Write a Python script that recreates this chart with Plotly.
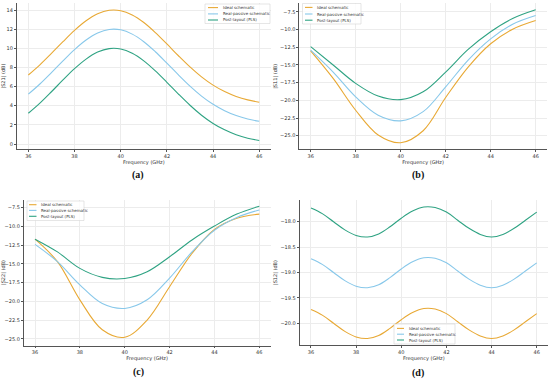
import plotly.graph_objects as go

# ---------------- data ----------------
freq_ab = [36, 36.5, 37, 37.5, 38, 38.5, 39, 39.5, 40, 40.5, 41, 41.5, 42, 42.5, 43, 43.5, 44, 44.5, 45, 45.5, 46]
s21_ideal = [7.21, 8.27, 9.46, 10.69, 11.87, 12.87, 13.60, 13.97, 13.93, 13.48, 12.69, 11.64, 10.45, 9.22, 8.05, 7.01, 6.15, 5.48, 4.97, 4.61, 4.37]
s21_real = [5.21, 6.27, 7.46, 8.69, 9.87, 10.87, 11.60, 11.97, 11.93, 11.48, 10.69, 9.64, 8.45, 7.22, 6.05, 5.01, 4.15, 3.48, 2.97, 2.61, 2.37]
s21_post = [3.21, 4.27, 5.46, 6.69, 7.87, 8.87, 9.60, 9.97, 9.93, 9.48, 8.69, 7.64, 6.45, 5.22, 4.05, 3.01, 2.15, 1.48, 0.97, 0.61, 0.37]

freq_bc = [36, 37, 38, 39, 40, 41, 42, 43, 44, 45, 46]
s11_ideal = [-13.0, -16.9, -21.4, -24.9, -26.0, -24.3, -19.6, -15.3, -12.0, -9.9, -8.7]
s11_real = [-12.9, -16.0, -19.5, -22.1, -22.9, -21.6, -18.1, -14.3, -11.3, -9.2, -8.0]
s11_post = [-12.4, -15.0, -17.6, -19.4, -19.9, -18.8, -16.0, -12.8, -10.3, -8.4, -7.2]

s22_ideal = [-11.7, -14.7, -19.8, -23.8, -24.8, -22.5, -18.05, -13.6, -10.4, -8.9, -8.35]
s22_real = [-12.4, -14.7, -17.8, -20.3, -20.95, -19.8, -16.9, -13.4, -10.5, -8.8, -7.8]
s22_post = [-11.7, -13.4, -15.6, -16.8, -16.95, -16.05, -14.05, -11.8, -9.95, -8.35, -7.3]

freq_d = freq_ab
s12_post = [-17.73, -17.84, -18.00, -18.16, -18.27, -18.30, -18.24, -18.10, -17.93, -17.79, -17.71, -17.72, -17.81, -17.97, -18.13, -18.25, -18.30, -18.25, -18.13, -17.97, -17.81]
s12_real = [-18.73, -18.84, -19.00, -19.16, -19.27, -19.30, -19.24, -19.10, -18.93, -18.79, -18.71, -18.72, -18.81, -18.97, -19.13, -19.25, -19.30, -19.25, -19.13, -18.97, -18.81]
s12_ideal = [-19.73, -19.84, -20.00, -20.16, -20.27, -20.30, -20.24, -20.10, -19.93, -19.79, -19.71, -19.72, -19.81, -19.97, -20.13, -20.25, -20.30, -20.25, -20.13, -19.97, -19.81]

series_names = ["Ideal schematic", "Real-passive schematic", "Post-layout (PLS)"]
y_titles = ["|S21| (dB)", "|S11| (dB)", "|S22| (dB)", "|S12| (dB)"]
captions = ["(a)", "(b)", "(c)", "(d)"]
x_title = "Frequency (GHz)"

colors = ["#E8A935", "#88C8EA", "#2FA383"]

W, H = 550, 380

fig = go.Figure()

panels = [
    (freq_ab, [s21_ideal, s21_real, s21_post]),
    (freq_bc, [s11_ideal, s11_real, s11_post]),
    (freq_bc, [s22_ideal, s22_real, s22_post]),
    (freq_d, [s12_ideal, s12_real, s12_post]),
]

for i, (fx, ys) in enumerate(panels):
    ax = "" if i == 0 else str(i + 1)
    for j, yv in enumerate(ys):
        fig.add_trace(go.Scatter(
            x=fx, y=yv, mode="lines", name=series_names[j],
            line=dict(color=colors[j], width=1.1, shape="spline", smoothing=1.0),
            xaxis="x" + ax, yaxis="y" + ax, showlegend=False,
        ))

# panel geometry in pixels: left, right, top, bottom
geo = [
    (16.8, 270.8, 3.4, 148.7),
    (299.4, 546.9, 3.2, 149.4),
    (23.8, 270.5, 199.5, 345.5),
    (299.7, 548.0, 199.9, 345.1),
]
yranges = [(-0.49, 14.69), (-26.94, -6.26), (-25.9, -6.4), (-20.43, -17.57)]
yticks = [
    dict(tickvals=[0, 2, 4, 6, 8, 10, 12, 14], tickformat="d"),
    dict(tickvals=[-25, -22.5, -20, -17.5, -15, -12.5, -10, -7.5], tickformat=".1f"),
    dict(tickvals=[-25, -22.5, -20, -17.5, -15, -12.5, -10, -7.5], tickformat=".1f"),
    dict(tickvals=[-20, -19.5, -19, -18.5, -18], tickformat=".1f"),
]

axis_common = dict(
    showline=True, linecolor="#555555", linewidth=0.9, mirror=False,
    ticks="outside", ticklen=2, tickwidth=0.6, tickcolor="#555555",
    showgrid=True, gridcolor="#ECECEC", gridwidth=0.6, zeroline=False,
    automargin=False,
    tickfont=dict(family="DejaVu Sans", size=5, color="#333333"),
)

for i in range(4):
    l, r, t, b = geo[i]
    ax = "" if i == 0 else str(i + 1)
    fig.layout["xaxis" + ax] = dict(
        axis_common,
        domain=[l / W, r / W], range=[35.5, 46.5],
        tickvals=[36, 38, 40, 42, 44, 46], anchor="y" + ax,
        title=dict(text=x_title, font=dict(family="DejaVu Sans", size=5, color="#333333"), standoff=1),
    )
    fig.layout["yaxis" + ax] = dict(
        axis_common,
        domain=[1 - b / H, 1 - t / H], range=list(yranges[i]), anchor="x" + ax,
        title=dict(text=y_titles[i], font=dict(family="DejaVu Sans", size=5, color="#333333"), standoff=2),
        **yticks[i],
    )

shapes = []
annotations = []

# manual legends: box (l, r, t, b), row y's, line x0/x1, text x
legends = [
    ((205, 270, 4, 23.5), (7.6, 13.9, 20.0), (208, 218), 221),
    ((302.5, 361, 3.5, 24), (7.4, 14.0, 20.2), (305, 312.5), 314.5),
    ((27, 84, 201, 220.5), (204.7, 210.4, 216.3), (29, 36.5), 39),
    ((394, 455, 324, 344), (328.4, 334.2, 340.0), (397, 404), 406.5),
]
for (bl, br, bt, bb), rows, (lx0, lx1), tx in legends:
    shapes.append(dict(type="rect", xref="paper", yref="paper",
                       x0=bl / W, x1=br / W, y0=1 - bb / H, y1=1 - bt / H,
                       line=dict(color="#D5D5D5", width=0.6), fillcolor="rgba(255,255,255,0.85)",
                       layer="above"))
    for j, ry in enumerate(rows):
        shapes.append(dict(type="line", xref="paper", yref="paper",
                           x0=lx0 / W, x1=lx1 / W, y0=1 - ry / H, y1=1 - ry / H,
                           line=dict(color=colors[j], width=1.1), layer="above"))
        annotations.append(dict(text=series_names[j], xref="paper", yref="paper",
                                x=tx / W, y=1 - ry / H, xanchor="left", yanchor="middle",
                                showarrow=False,
                                font=dict(family="DejaVu Sans", size=4, color="#333333")))

cap_pos = [(138, 175), (418, 175), (138, 372), (418, 373)]
for k, (cx, cy) in enumerate(cap_pos):
    annotations.append(dict(text="<b>" + captions[k] + "</b>", xref="paper", yref="paper",
                            x=cx / W, y=1 - cy / H, xanchor="center", yanchor="middle",
                            showarrow=False,
                            font=dict(family="Liberation Serif", size=10, color="#111111")))

fig.update_layout(
    width=W, height=H, margin=dict(l=0, r=0, t=0, b=0),
    paper_bgcolor="white", plot_bgcolor="white",
    shapes=shapes, annotations=annotations, showlegend=False,
)

fig.write_html("out.html", config={"displayModeBar": False},
               post_script="document.body.style.margin='0';document.body.style.overflow='hidden';")
